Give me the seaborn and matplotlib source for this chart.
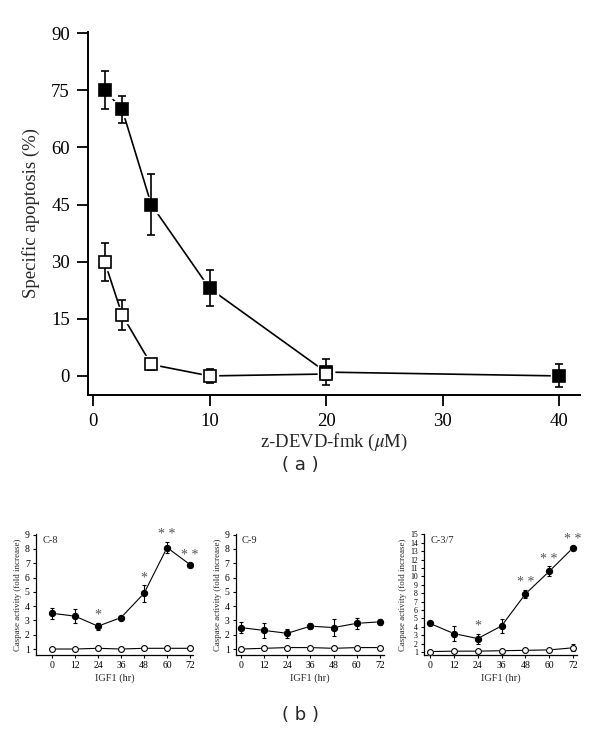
import matplotlib
matplotlib.use("Agg")
import matplotlib.pyplot as plt
import seaborn as sns
import pandas as pd

# --- Panel (a): z-DEVD-fmk dose response ---
dose = [1, 2.5, 5, 10, 20, 40]
apop_black = [75, 70, 45, 23, 1, 0]
apop_black_err = [5, 3.5, 8, 4.7, 3.5, 3]
dose_white = [1, 2.5, 5, 10, 20]
apop_white = [30, 16, 3, 0, 0.5]
apop_white_err = [5, 4, 1.5, 1.8, 1.5]

# --- Panel (b): caspase activity vs IGF1 time ---
hours = [0, 12, 24, 36, 48, 60, 72]
c8_black = [3.5, 3.3, 2.6, 3.2, 4.9, 8.1, 6.9]
c8_black_err = [0.4, 0.5, 0.25, 0.1, 0.6, 0.4, 0.15]
c8_white = [1.0, 1.0, 1.05, 1.0, 1.05, 1.05, 1.05]
c8_stars = ["", "", "*", "", "*", "* *", "* *"]

c9_black = [2.5, 2.3, 2.1, 2.6, 2.5, 2.8, 2.9]
c9_black_err = [0.4, 0.55, 0.3, 0.2, 0.6, 0.4, 0.2]
c9_white = [1.0, 1.05, 1.1, 1.1, 1.05, 1.1, 1.1]
c9_stars = ["", "", "", "", "", "", ""]

c37_black = [4.4, 3.2, 2.6, 4.1, 7.9, 10.6, 13.4]
c37_black_err = [0.1, 0.9, 0.6, 0.8, 0.5, 0.6, 0.2]
c37_white = [1.05, 1.1, 1.1, 1.15, 1.2, 1.25, 1.5]
c37_white_err = [0.05, 0.05, 0.05, 0.05, 0.1, 0.1, 0.4]
c37_stars = ["", "", "*", "", "* *", "* *", "* *"]

sns.set_theme(style="ticks")
plt.rcParams['font.family'] = ['Liberation Serif', 'DejaVu Serif']
plt.rcParams['mathtext.fontset'] = 'stix'


def draw_series(ax, x, y, err, face, ms, lw, halo):
    df = pd.DataFrame({'x': x, 'y': y})
    sns.lineplot(data=df, x='x', y='y', ax=ax, color='black', linewidth=lw,
                 marker=None, zorder=2)
    # white halo leaves a small gap between line and marker
    ax.plot(x, y, linestyle='none', marker=face[0], markersize=ms + halo,
            markerfacecolor='white', markeredgecolor='white', zorder=3)
    if err is not None:
        ax.errorbar(x, y, yerr=err, fmt='none', ecolor='black',
                    elinewidth=lw, capsize=ms * 0.35, capthick=lw, zorder=4)
    ax.plot(x, y, linestyle='none', marker=face[0], markersize=ms,
            markerfacecolor=face[1], markeredgecolor='black',
            markeredgewidth=lw, zorder=5)


fig = plt.figure(figsize=(6.0, 7.34), dpi=100)

# ---------------- (a) ----------------
ax = fig.add_axes([0.1467, 0.4619, 0.82, 0.4945])
draw_series(ax, dose, apop_black, apop_black_err, ('s', 'black'), 9, 1.2, 3)
draw_series(ax, dose_white, apop_white, apop_white_err, ('s', 'white'), 8.5, 1.2, 3)
ax.set_xlim(-0.43, 41.8)
ax.set_ylim(-5, 90.3)
ax.set_xticks([0, 10, 20, 30, 40])
ax.set_yticks([0, 15, 30, 45, 60, 75, 90])
ax.set_xlabel(r'z-DEVD-fmk ($\mu$M)', fontsize=13.5, labelpad=1)
ax.set_ylabel('Specific apoptosis (%)', fontsize=13.5, labelpad=8)
ax.tick_params(labelsize=13.5, length=8, width=1.3, colors='black', pad=5)
for s in ['top', 'right']:
    ax.spines[s].set_visible(False)
for s in ['left', 'bottom']:
    ax.spines[s].set_linewidth(1.4)
    ax.spines[s].set_color('black')

fig.text(0.5, 1 - 465 / 734, '( a )', ha='center', va='center',
         fontsize=13, family='DejaVu Sans')

# ---------------- (b) ----------------
panels = [
    ('C-8', [0.06, 0.1076, 0.2617, 0.1649], (-8.3, 73.5), (0.58, 9.05),
     list(range(1, 10)), 7, c8_black, c8_black_err, c8_white, None, c8_stars),
    ('C-9', [0.3933, 0.1076, 0.2467, 0.1649], (-2.6, 74.1), (0.58, 9.05),
     list(range(1, 10)), 7, c9_black, c9_black_err, c9_white, None, c9_stars),
    ('C-3/7', [0.7067, 0.1076, 0.255, 0.1649], (-3.0, 74.0), (0.64, 15.05),
     list(range(1, 16)), 5.6, c37_black, c37_black_err, c37_white, c37_white_err, c37_stars),
]

for name, pos, xl, yl, yt, ysize, yb, yb_err, yw, yw_err, stars in panels:
    bx = fig.add_axes(pos)
    draw_series(bx, hours, yw, yw_err, ('o', 'white'), 4.2, 0.8, 0)
    draw_series(bx, hours, yb, yb_err, ('o', 'black'), 4.5, 0.8, 0)
    span = yl[1] - yl[0]
    for h, v, e, st in zip(hours, yb, yb_err, stars):
        if st:
            bx.text(h, v + e + span * 0.005, st, ha='center', va='bottom',
                    fontsize=10, color='#555555')
    bx.set_xlim(*xl)
    bx.set_ylim(*yl)
    bx.set_xticks(hours)
    bx.set_yticks(yt)
    bx.set_xlabel('IGF1 (hr)', fontsize=7.5, labelpad=2)
    bx.set_ylabel('Caspase activity (fold increase)', fontsize=6.4, labelpad=2)
    bx.tick_params(axis='x', labelsize=7, length=2.5, width=0.8, colors='black', pad=2)
    bx.tick_params(axis='y', labelsize=ysize, length=2.5, width=0.8, colors='black', pad=2)
    for s in ['top', 'right']:
        bx.spines[s].set_visible(False)
    for s in ['left', 'bottom']:
        bx.spines[s].set_linewidth(0.9)
        bx.spines[s].set_color('black')
    bx.text(0.04, 0.98, name, transform=bx.transAxes, ha='left', va='top',
            fontsize=7.5)

fig.text(0.5, 1 - 715 / 734, '( b )', ha='center', va='center',
         fontsize=13, family='DejaVu Sans')

fig.savefig('out.png', dpi=100, facecolor='white')
